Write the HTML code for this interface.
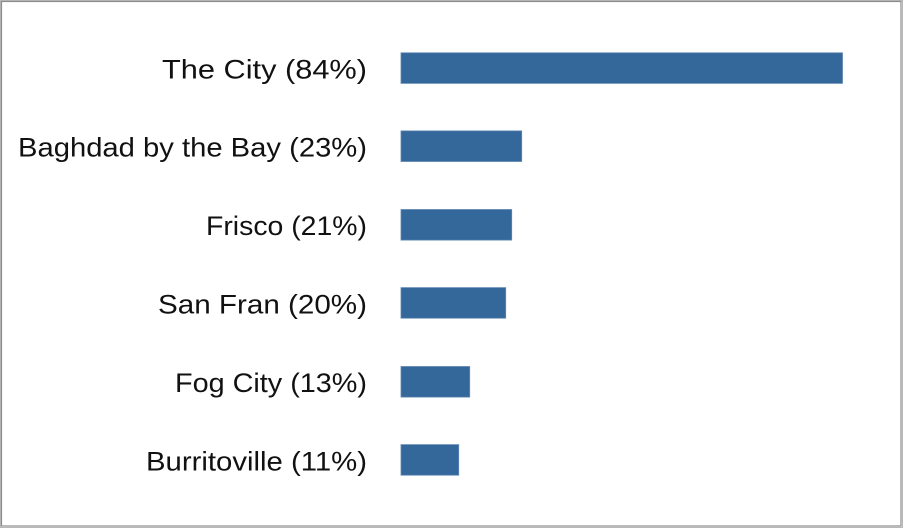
<!DOCTYPE html>
<html>
<head>
<meta charset="utf-8">
<style>
  html,body{margin:0;padding:0;background:#fff;}
  svg{display:block;}
  text{font-family:"Liberation Sans",Arial,sans-serif;font-size:27px;fill:#111;}
</style>
</head>
<body>
<svg width="903" height="528" viewBox="0 0 903 528" xmlns="http://www.w3.org/2000/svg">
  <rect x="0" y="0" width="903" height="528" fill="#fff"/>
  <rect x="0.5" y="0.5" width="902" height="527" fill="none" stroke="#b8b8b8" stroke-width="1"/>
  <rect x="1.5" y="1.5" width="899.5" height="524.5" fill="none" stroke="#8c8c8c" stroke-width="1.2"/>

  <g fill="#34679a" stroke="#5f87b3" stroke-width="0.8">
    <rect x="401" y="52.8" width="441.5" height="30.6"/>
    <rect x="401" y="130.9" width="120.7" height="30.6"/>
    <rect x="401" y="209.5" width="110.7" height="30.6"/>
    <rect x="401" y="287.6" width="104.7" height="30.6"/>
    <rect x="401" y="366.5" width="68.7" height="30.6"/>
    <rect x="401" y="444.6" width="57.7" height="30.6"/>
  </g>

  <g text-anchor="end">
    <text x="367" y="78.5" textLength="205" lengthAdjust="spacingAndGlyphs">The City (84%)</text>
    <text x="367" y="156.6" textLength="349" lengthAdjust="spacingAndGlyphs">Baghdad by the Bay (23%)</text>
    <text x="367" y="235.2" textLength="161" lengthAdjust="spacingAndGlyphs">Frisco (21%)</text>
    <text x="367" y="313.3" textLength="209" lengthAdjust="spacingAndGlyphs">San Fran (20%)</text>
    <text x="367" y="392.2" textLength="192" lengthAdjust="spacingAndGlyphs">Fog City (13%)</text>
    <text x="367" y="470.3" textLength="221" lengthAdjust="spacingAndGlyphs">Burritoville (11%)</text>
  </g>
</svg>
</body>
</html>
